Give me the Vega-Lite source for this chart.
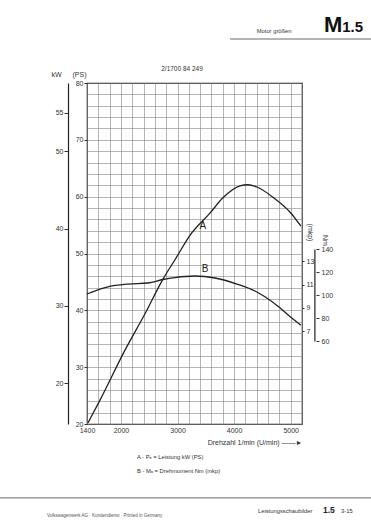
{
  "$schema": "https://vega.github.io/schema/vega-lite/v6.json",
  "width": 215,
  "height": 341,
  "autosize": {"type": "none"},
  "padding": {"left": 87, "top": 83, "right": 69, "bottom": 102},
  "background": "white",
  "config": {
    "font": "Liberation Sans",
    "view": {"stroke": "#222", "strokeWidth": 1.2},
    "axis": {"labelFont": "Liberation Sans", "labelFontSize": 7, "labelColor": "#333", "tickColor": "#333", "domainColor": "#222", "titleFont": "Liberation Sans", "titleFontSize": 7, "titleFontWeight": "normal", "titleColor": "#333"}
  },
  "layer": [
    {
      "data": {"values": [
        {"rpm": 1418, "ps": 20.2}, {"rpm": 1630, "ps": 24.2}, {"rpm": 2071, "ps": 33.0}, {"rpm": 2425, "ps": 39.4},
        {"rpm": 2743, "ps": 45.5}, {"rpm": 2955, "ps": 48.9}, {"rpm": 3220, "ps": 53.2}, {"rpm": 3573, "ps": 57.1},
        {"rpm": 3803, "ps": 59.8}, {"rpm": 4103, "ps": 61.9}, {"rpm": 4244, "ps": 62.1}, {"rpm": 4403, "ps": 61.7},
        {"rpm": 4686, "ps": 59.9}, {"rpm": 4987, "ps": 57.3}, {"rpm": 5181, "ps": 54.8}
      ]},
      "mark": {"type": "line", "color": "#222", "strokeWidth": 1.3, "interpolate": "monotone"},
      "encoding": {
        "x": {"field": "rpm", "type": "quantitative", "scale": {"domain": [1400, 5200], "nice": false, "zero": false},
          "axis": {"orient": "bottom", "values": [1400,1600,1800,2000,2200,2400,2600,2800,3000,3200,3400,3600,3800,4000,4200,4400,4600,4800,5000,5200],
            "format": "d", "labelExpr": "datum.value == 1400 || datum.value == 2000 || datum.value == 3000 || datum.value == 4000 || datum.value == 5000 ? datum.label : ''",
            "labelOverlap": false, "labelFlush": false, "labelPadding": 2, "ticks": false, "domain": false,
            "grid": true, "gridColor": "#858585", "gridWidth": 0.6,
            "title": "Drehzahl  1/min  (U/min) ——►", "titleAnchor": "end", "titleAlign": "right", "titleX": 215, "titleY": 18, "titleBaseline": "middle"}},
        "y": {"field": "ps", "type": "quantitative", "scale": {"domain": [20, 80], "nice": false, "zero": false},
          "axis": {"orient": "left", "values": [20,22,24,26,28,30,32,34,36,38,40,42,44,46,48,50,52,54,56,58,60,62,64,66,68,70,72,74,76,78,80],
            "labelExpr": "datum.value % 10 == 0 ? datum.label : ''", "labelOverlap": false, "labelPadding": 1, "tickSize": 3,
            "tickOpacity": {"condition": {"test": "datum.value % 10 == 0", "value": 1}, "value": 0},
            "domain": false, "grid": true, "gridColor": "#858585", "gridWidth": 0.6,
            "title": "(PS)", "titleAngle": 0, "titleX": -8, "titleY": -6, "titleAlign": "center", "titleBaseline": "bottom"}}
      }
    },
    {
      "data": {"values": [{}]},
      "mark": {"type": "rule", "opacity": 0},
      "encoding": {
        "y": {"datum": 30, "type": "quantitative", "scale": {"domain": [14.71, 58.84], "nice": false, "zero": false},
          "axis": {"orient": "left", "offset": 19, "values": [20, 30, 40, 50, 55], "tickSize": 4, "labelPadding": 1, "domain": true, "domainWidth": 1.2, "grid": false,
            "title": "kW", "titleAngle": 0, "titleX": -12, "titleY": -6, "titleAlign": "center", "titleBaseline": "bottom"}}
      }
    },
    {
      "data": {"values": [
        {"rpm": 1400, "mkp": 10.19}, {"rpm": 1753, "mkp": 10.79}, {"rpm": 2124, "mkp": 11.05}, {"rpm": 2478, "mkp": 11.14},
        {"rpm": 2743, "mkp": 11.44}, {"rpm": 2955, "mkp": 11.61}, {"rpm": 3308, "mkp": 11.74}, {"rpm": 3661, "mkp": 11.57},
        {"rpm": 4050, "mkp": 11.05}, {"rpm": 4368, "mkp": 10.45}, {"rpm": 4545, "mkp": 9.95}, {"rpm": 4810, "mkp": 9.0},
        {"rpm": 4987, "mkp": 8.25}, {"rpm": 5180, "mkp": 7.5}
      ]},
      "mark": {"type": "line", "color": "#222", "strokeWidth": 1.3, "interpolate": "monotone"},
      "encoding": {
        "x": {"field": "rpm", "type": "quantitative", "scale": {"domain": [1400, 5200], "nice": false, "zero": false}, "axis": null},
        "y": {"field": "mkp", "type": "quantitative", "scale": {"domain": [-1.017, 28.38], "nice": false, "zero": false},
          "axis": {"orient": "right", "offset": 0, "values": [7, 9, 11, 13], "tickSize": 2, "labelPadding": 2, "domain": false, "grid": false,
            "title": "(mkp)", "titleAngle": 90, "titleX": 7, "titleY": 149, "titleAlign": "center", "titleBaseline": "middle"}}
      }
    },
    {
      "data": {"values": [{}]},
      "mark": {"type": "rule", "color": "#222", "strokeWidth": 1.2},
      "encoding": {
        "x": {"datum": 5428, "type": "quantitative", "scale": {"domain": [1400, 5200], "nice": false, "zero": false}, "axis": null},
        "y": {"datum": 60, "type": "quantitative", "scale": {"domain": [-11.74, 284.78], "nice": false, "zero": false},
          "axis": {"orient": "right", "offset": 14, "values": [60, 80, 100, 120, 140], "tickSize": 3, "labelPadding": 2, "domain": false, "grid": false,
            "title": "Nm", "titleAngle": 90, "titleX": 8, "titleY": 157, "titleAlign": "center", "titleBaseline": "middle"}},
        "y2": {"datum": 140}
      }
    },
    {
      "data": {"values": [{"t": "A", "rpm": 3449, "ps": 54.8}, {"t": "B", "rpm": 3485, "ps": 47.3}]},
      "mark": {"type": "text", "fontSize": 10, "fill": "#222"},
      "encoding": {
        "x": {"field": "rpm", "type": "quantitative", "scale": {"domain": [1400, 5200], "nice": false, "zero": false}, "axis": null},
        "y": {"field": "ps", "type": "quantitative", "scale": {"domain": [20, 80], "nice": false, "zero": false}, "axis": null},
        "text": {"field": "t"}
      }
    },
    {
      "data": {"values": [{"t": "2/1700 84 249", "rpm": 3079, "ps": 82.5}]},
      "mark": {"type": "text", "fontSize": 6.5, "fill": "#333", "baseline": "middle"},
      "encoding": {
        "x": {"field": "rpm", "type": "quantitative", "scale": {"domain": [1400, 5200], "nice": false, "zero": false}, "axis": null},
        "y": {"field": "ps", "type": "quantitative", "scale": {"domain": [20, 80], "nice": false, "zero": false}, "axis": null},
        "text": {"field": "t"}
      }
    },
    {
      "data": {"values": [
        {"t": "A - Pₑ = Leistung kW (PS)", "rpm": 2283, "ps": 13.84},
        {"t": "B - Mₐ = Drehmoment Nm (mkp)", "rpm": 2283, "ps": 11.37},
        {"t": "Motor größen", "rpm": 4400, "ps": 88.8},
        {"t": "Leistungsschaubilder", "rpm": 4422, "ps": 4.4},
        {"t": "3-15", "rpm": 5890, "ps": 4.4}
      ]},
      "mark": {"type": "text", "fontSize": 5.8, "fill": "#333", "align": "left", "baseline": "alphabetic"},
      "encoding": {
        "x": {"field": "rpm", "type": "quantitative", "scale": {"domain": [1400, 5200], "nice": false, "zero": false}, "axis": null},
        "y": {"field": "ps", "type": "quantitative", "scale": {"domain": [20, 80], "nice": false, "zero": false}, "axis": null},
        "text": {"field": "t"}
      }
    },
    {
      "data": {"values": [{"t": "Volkswagenwerk AG · Kundendienst · Printed in Germany", "rpm": 693, "ps": 3.6}]},
      "mark": {"type": "text", "fontSize": 4.5, "fill": "#555", "align": "left", "baseline": "alphabetic"},
      "encoding": {
        "x": {"field": "rpm", "type": "quantitative", "scale": {"domain": [1400, 5200], "nice": false, "zero": false}, "axis": null},
        "y": {"field": "ps", "type": "quantitative", "scale": {"domain": [20, 80], "nice": false, "zero": false}, "axis": null},
        "text": {"field": "t"}
      }
    },
    {
      "data": {"values": [{"t": "M", "rpm": 5588, "ps": 88.97}]},
      "mark": {"type": "text", "fontSize": 22, "fontWeight": "bold", "fill": "#111", "align": "left", "baseline": "alphabetic"},
      "encoding": {
        "x": {"field": "rpm", "type": "quantitative", "scale": {"domain": [1400, 5200], "nice": false, "zero": false}, "axis": null},
        "y": {"field": "ps", "type": "quantitative", "scale": {"domain": [20, 80], "nice": false, "zero": false}, "axis": null},
        "text": {"field": "t"}
      }
    },
    {
      "data": {"values": [{"t": "1.5", "rpm": 5910, "ps": 88.97}]},
      "mark": {"type": "text", "fontSize": 15, "fontWeight": "bold", "fill": "#111", "align": "left", "baseline": "alphabetic"},
      "encoding": {
        "x": {"field": "rpm", "type": "quantitative", "scale": {"domain": [1400, 5200], "nice": false, "zero": false}, "axis": null},
        "y": {"field": "ps", "type": "quantitative", "scale": {"domain": [20, 80], "nice": false, "zero": false}, "axis": null},
        "text": {"field": "t"}
      }
    },
    {
      "data": {"values": [{"t": "1.5", "rpm": 5570, "ps": 4.4}]},
      "mark": {"type": "text", "fontSize": 8.5, "fontWeight": "bold", "fill": "#222", "align": "left", "baseline": "alphabetic"},
      "encoding": {
        "x": {"field": "rpm", "type": "quantitative", "scale": {"domain": [1400, 5200], "nice": false, "zero": false}, "axis": null},
        "y": {"field": "ps", "type": "quantitative", "scale": {"domain": [20, 80], "nice": false, "zero": false}, "axis": null},
        "text": {"field": "t"}
      }
    },
    {
      "data": {"values": [{"rpm": 3927, "rpm2": 6420, "ps": 87.74}, {"rpm": -140, "rpm2": 6420, "ps": 7.0}]},
      "mark": {"type": "rule", "color": "#444", "strokeWidth": 0.8},
      "encoding": {
        "x": {"field": "rpm", "type": "quantitative", "scale": {"domain": [1400, 5200], "nice": false, "zero": false}, "axis": null},
        "x2": {"field": "rpm2"},
        "y": {"field": "ps", "type": "quantitative", "scale": {"domain": [20, 80], "nice": false, "zero": false}, "axis": null}
      }
    }
  ],
  "resolve": {"scale": {"x": "independent", "y": "independent"}, "axis": {"x": "independent", "y": "independent"}}
}
